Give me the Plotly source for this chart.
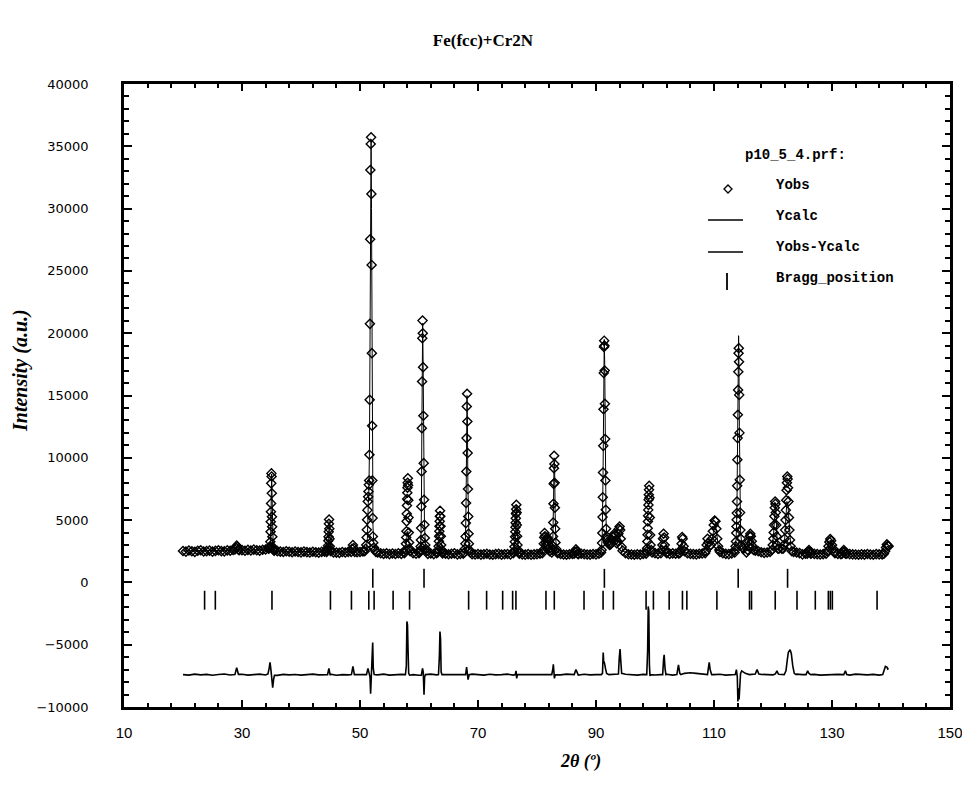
import plotly.graph_objects as go

# ---------------- data ----------------
# observed pattern: background read every 0.5 deg from 20.0 to 139.5
obs_base_y = [
    2520, 2470, 2560, 2500, 2450, 2540, 2580, 2480, 2510, 2550,
    2470, 2530, 2580, 2510, 2490, 2570, 2540, 2600, 2600, 2580,
    2590, 2540, 2610, 2560, 2630, 2580, 2550, 2620, 2640, 2660,
    2600, 2580, 2510, 2470, 2440, 2500, 2460, 2420, 2480, 2440,
    2410, 2470, 2430, 2400, 2460, 2420, 2390, 2450, 2470, 2480,
    2500, 2410, 2390, 2370, 2440, 2400, 2450, 2410, 2460, 2420,
    2440, 2480, 2500, 2520, 2560, 2600, 2400, 2340, 2290, 2330,
    2270, 2320, 2280, 2340, 2290, 2350, 2370, 2400, 2350, 2300,
    2350, 2400, 2340, 2290, 2320, 2270, 2350, 2290, 2330, 2300,
    2260, 2300, 2330, 2250, 2290, 2310, 2350, 2320, 2260, 2240,
    2280, 2230, 2260, 2300, 2240, 2220, 2270, 2290, 2230, 2260,
    2280, 2240, 2300, 2330, 2300, 2250, 2230, 2270, 2220, 2250,
    2270, 2300, 2320, 2350, 2400, 2380, 2400, 2350, 2280, 2240,
    2220, 2260, 2280, 2300, 2260, 2300, 2270, 2240, 2230, 2280,
    2250, 2300, 2340, 2400, 2450, 2500, 2600, 2700, 2700, 2500,
    2350, 2260, 2240, 2220, 2260, 2230, 2280, 2300, 2330, 2400,
    2350, 2290, 2320, 2380, 2340, 2290, 2330, 2300, 2320, 2350,
    2400, 2340, 2290, 2270, 2250, 2300, 2320, 2350, 2400, 2500,
    2600, 2600, 2450, 2350, 2290, 2270, 2330, 2400, 2450, 2500,
    2450, 2400, 2450, 2500, 2550, 2500, 2420, 2370, 2400, 2450,
    2500, 2550, 2600, 2700, 2750, 2700, 2450, 2450, 2400, 2350,
    2250, 2300, 2320, 2350, 2290, 2270, 2240, 2270, 2300, 2350,
    2400, 2340, 2290, 2270, 2250, 2300, 2270, 2250, 2240, 2220,
    2250, 2230, 2280, 2240, 2220, 2270, 2250, 2240, 2290, 2900,
]
obs_base_tt = [20.0 + 0.5 * i for i in range(len(obs_base_y))]

# observed points on the peaks
obs_peak_tt = [
    [28.8, 28.95, 29.1, 29.25, 29.4],
    [34.5, 34.6, 34.68, 34.75, 34.80, 34.84, 34.87, 34.90, 34.93, 34.96, 34.99,
     35.02, 35.05, 35.08, 35.11, 35.14, 35.18, 35.25, 35.35, 35.45],
    [44.35, 44.45, 44.52, 44.58, 44.63, 44.67, 44.70, 44.73, 44.76, 44.80, 44.84,
     44.88, 44.95, 45.05],
    [48.5, 48.65, 48.8, 48.95, 49.1],
    [50.8, 50.95, 51.05, 51.12, 51.16, 51.20, 51.26, 51.32, 51.38, 51.44, 51.50,
     51.55, 51.60, 51.64, 51.68, 51.72, 51.76, 51.82, 51.88, 51.93, 51.97, 52.01,
     52.05, 52.09, 52.13, 52.18, 52.25, 52.35, 52.5, 52.7],
    [57.6, 57.7, 57.78, 57.83, 57.87, 57.90, 57.93, 57.96, 57.99, 58.02, 58.05,
     58.08, 58.11, 58.15, 58.19, 58.23, 58.27, 58.32, 58.40, 58.5],
    [60.1, 60.2, 60.27, 60.32, 60.36, 60.40, 60.44, 60.48, 60.52, 60.56, 60.60,
     60.64, 60.69, 60.74, 60.80, 60.86, 60.92, 60.99, 61.07, 61.15, 61.3],
    [63.15, 63.25, 63.32, 63.37, 63.41, 63.45, 63.48, 63.51, 63.54, 63.57, 63.61,
     63.65, 63.70, 63.76, 63.85, 63.95],
    [67.7, 67.8, 67.86, 67.90, 67.94, 67.98, 68.02, 68.06, 68.10, 68.15, 68.20,
     68.25, 68.30, 68.35, 68.40, 68.46, 68.55, 68.7],
    [76.0, 76.1, 76.18, 76.24, 76.28, 76.32, 76.35, 76.38, 76.41, 76.44, 76.47,
     76.50, 76.54, 76.58, 76.63, 76.69, 76.78, 76.9],
    [80.9, 81.05, 81.15, 81.22, 81.28, 81.35, 81.45, 81.55, 81.65, 81.72, 81.80,
     81.9, 82.0, 82.15],
    [82.5, 82.6, 82.66, 82.71, 82.75, 82.79, 82.83, 82.87, 82.91, 82.95, 82.99,
     83.03, 83.08, 83.14, 83.22, 83.35],
    [86.3, 86.45, 86.6, 86.75, 86.9],
    [90.85, 90.95, 91.02, 91.07, 91.11, 91.15, 91.19, 91.23, 91.27, 91.31, 91.35,
     91.39, 91.43, 91.47, 91.51, 91.55, 91.60, 91.65, 91.71, 91.78],
    [91.87, 92.0, 92.15, 92.3, 92.45, 92.6, 92.75, 92.9, 93.05, 93.2, 93.35, 93.5,
     93.65, 93.8, 93.9, 94.0, 94.1, 94.2, 94.35, 94.5],
    [98.5, 98.6, 98.66, 98.70, 98.74, 98.77, 98.80, 98.83, 98.86, 98.89, 98.92,
     98.95, 98.98, 99.02, 99.07, 99.12, 99.18, 99.25, 99.35, 99.5],
    [101.0, 101.15, 101.25, 101.35, 101.45, 101.55, 101.65, 101.8, 101.95],
    [104.2, 104.35, 104.5, 104.6, 104.7, 104.85, 105.0],
    [108.6, 108.75, 108.9, 109.05, 109.25, 109.45, 109.65, 109.8, 109.95, 110.1,
     110.25, 110.4, 110.55, 110.7, 110.9],
    [113.55, 113.65, 113.72, 113.77, 113.81, 113.84, 113.87, 113.90, 113.93,
     113.96, 114.00, 114.04, 114.08, 114.12, 114.16, 114.20, 114.24, 114.28,
     114.32, 114.37, 114.42, 114.48, 114.55, 114.65, 114.8, 115.0],
    [115.7, 115.85, 115.95, 116.05, 116.15, 116.25, 116.4, 116.55, 116.7],
    [119.8, 119.95, 120.05, 120.12, 120.18, 120.24, 120.30, 120.36, 120.42,
     120.48, 120.55, 120.62, 120.72, 120.85, 121.0],
    [121.7, 121.85, 121.95, 122.05, 122.12, 122.18, 122.24, 122.30, 122.36,
     122.42, 122.48, 122.55, 122.62, 122.70, 122.78, 122.88, 123.0, 123.2],
    [125.8, 125.95, 126.1, 126.25, 126.4],
    [129.0, 129.2, 129.4, 129.55, 129.7, 129.85, 130.0, 130.2, 130.4],
    [131.7, 131.85, 132.0, 132.15, 132.3],
    [138.8, 139.0, 139.15, 139.3, 139.45, 139.6],
]
obs_peak_y = [
    [2650, 2800, 2950, 2850, 2650],
    [2700, 2750, 2800, 2900, 3260, 4060, 4870, 5670, 6340, 7950, 8750,
     8500, 7150, 5270, 4470, 3660, 2860, 2700, 2600, 2550],
    [2450, 2550, 2700, 2950, 3340, 3660, 4060, 4700, 5050, 4300, 3500,
     2900, 2600, 2500],
    [2450, 2700, 3000, 2750, 2450],
    [2500, 2700, 3000, 3600, 4220, 5030, 5800, 6500, 6870, 7300, 7830,
     8180, 10240, 14650, 20750, 27540, 33100, 35190, 35720, 31180, 25480, 18400,
     12570, 8180, 5160, 3690, 3180, 2800, 2600, 2450],
    [2400, 2600, 3100, 3600, 4100, 4900, 5500, 6170, 6700, 7200, 7600,
     8000, 8350, 7800, 6600, 5200, 4000, 3200, 2700, 2500],
    [2450, 2600, 2880, 3400, 4360, 6090, 8900, 12380, 16120, 19600, 21010,
     20000, 17275, 13370, 9570, 6630, 4620, 3560, 3000, 2700, 2500],
    [2400, 2600, 2900, 3300, 3700, 4100, 4500, 4900, 5300, 5750, 5300,
     4500, 3700, 3000, 2600, 2400],
    [2400, 2700, 3100, 3690, 4760, 6370, 8900, 11580, 14120, 15140, 12910,
     10380, 7490, 5290, 3900, 3100, 2600, 2400],
    [2350, 2500, 2860, 3260, 3660, 4060, 4420, 4790, 5140, 5500, 5870,
     6230, 5600, 4600, 3700, 3000, 2600, 2400],
    [2350, 2600, 3100, 3600, 3960, 3700, 3200, 3000, 3300, 3600, 3500,
     3000, 2700, 2500],
    [2400, 2600, 2940, 3690, 4810, 6310, 7910, 9170, 10160, 9500, 8000,
     6000, 4300, 3200, 2700, 2450],
    [2300, 2450, 2650, 2500, 2300],
    [2400, 2600, 3160, 3960, 5240, 6830, 8820, 10960, 13900, 16800, 18900,
     19400, 19000, 17000, 14330, 11500, 8180, 5830, 4300, 3700],
    [3450, 3250, 3100, 3000, 3050, 3150, 3400, 3700, 3880, 3750, 3400, 3150,
     3300, 3900, 4300, 4490, 4200, 3500, 2850, 2550],
    [2300, 2500, 2740, 3280, 3820, 4350, 4890, 5340, 5820, 6220, 6630,
     7030, 7430, 7750, 6800, 5200, 3800, 3000, 2600, 2400],
    [2350, 2600, 3000, 3500, 3900, 3600, 3000, 2600, 2400],
    [2350, 2600, 3100, 3650, 3500, 2900, 2500],
    [2500, 3000, 3500, 3200, 2900, 3000, 3500, 4100, 4600, 4970,
     4900, 4300, 3500, 2900, 2600],
    [2600, 2900, 3280, 3960, 4490, 5020, 5560, 6490, 7750,
     9840, 11580, 13450, 15450, 16900, 18400, 18800, 17700, 15050,
     12000, 8230, 5600, 4200, 3500, 3000, 2800, 2700],
    [2600, 2900, 3300, 3700, 3900, 3700, 3300, 2900, 2600],
    [2600, 3000, 3500, 4000, 4600, 5300, 6000, 6490, 6300,
     5600, 4600, 3700, 3000, 2700, 2700],
    [2700, 3000, 3500, 4200, 5000, 5800, 6600, 7400, 8000,
     8500, 8300, 7600, 6500, 5200, 4200, 3400, 2900, 2500],
    [2300, 2450, 2600, 2450, 2300],
    [2300, 2500, 2900, 3250, 3480, 3350, 3000, 2700, 2450],
    [2300, 2450, 2600, 2450, 2300],
    [2300, 2500, 2800, 3050, 2950, 2900],
]

# calculated pattern: background every 2 deg from 20 to 138, plus peaks
calc_base_y = [
    2520, 2530, 2540, 2540, 2560, 2580, 2590, 2620, 2500, 2470,
    2450, 2440, 2440, 2420, 2420, 2450, 2450, 2380, 2320, 2330,
    2350, 2350, 2320, 2300, 2290, 2270, 2260, 2270, 2280, 2270,
    2290, 2350, 2320, 2270, 2270, 2280, 2600, 2500, 2260, 2260,
    2300, 2320, 2330, 2330, 2300, 2500, 2400, 2600, 2450, 2480,
    2600, 2800, 2400, 2330, 2320, 2350, 2280, 2270, 2260, 2260,
]
calc_base_tt = [20.0 + 2.0 * i for i in range(len(calc_base_y))]
calc_peak_tt = [
    [34.5, 34.7, 34.85, 34.95, 35.03, 35.10, 35.18, 35.3, 35.5],
    [44.4, 44.6, 44.68, 44.76, 44.84, 44.95, 45.1],
    [48.5, 48.8, 49.1],
    [50.9, 51.1, 51.25, 51.4, 51.5, 51.6, 51.7, 51.8, 51.88, 51.95, 52.02, 52.1,
     52.2, 52.35, 52.6],
    [57.6, 57.9, 58.1, 58.3, 58.6],
    [60.1, 60.3, 60.4, 60.48, 60.56, 60.62, 60.7, 60.8, 60.92, 61.05, 61.3],
    [67.7, 67.88, 67.98, 68.06, 68.14, 68.2, 68.28, 68.38, 68.5, 68.8],
    [76.0, 76.25, 76.38, 76.47, 76.55, 76.65, 76.8, 77.0],
    [80.9, 81.15, 81.3, 81.5, 81.72, 81.95, 82.2],
    [82.5, 82.68, 82.8, 82.9, 82.98, 83.08, 83.2, 83.4],
    [90.85, 91.05, 91.2, 91.3, 91.4, 91.48, 91.58, 91.7, 91.85, 92.2, 92.6,
     93.0, 93.25, 93.6, 93.95, 94.2, 94.6],
    [98.6, 98.9, 99.2],
    [101.1, 101.45, 101.8],
    [104.2, 104.6, 105.0],
    [108.6, 108.9, 109.2, 109.6, 109.9, 110.15, 110.4, 110.7, 110.95],
    [113.55, 113.75, 113.88, 113.98, 114.06, 114.12, 114.17, 114.22, 114.3,
     114.4, 114.5, 114.7, 115.0],
    [115.7, 116.15, 116.7],
    [119.8, 120.1, 120.25, 120.38, 120.5, 120.7, 121.0],
    [121.7, 121.95, 122.15, 122.35, 122.5, 122.7, 123.0, 123.3],
    [125.8, 126.1, 126.4],
    [129.1, 129.4, 129.7, 130.0, 130.4],
    [138.8, 139.1, 139.3, 139.6],
]
calc_peak_y = [
    [2650, 2750, 3500, 6500, 8700, 6800, 4000, 2800, 2550],
    [2450, 2700, 3300, 4900, 4100, 2800, 2450],
    [2430, 2800, 2430],
    [2550, 2750, 3500, 6300, 7300, 10500, 24000, 33000, 35500, 30000, 20000, 9500,
     4500, 3000, 2550],
    [2350, 3200, 4100, 3200, 2400],
    [2400, 2900, 5500, 12000, 19000, 20800, 17500, 10000, 5000, 3200, 2450],
    [2380, 3500, 6500, 11500, 15000, 13500, 8000, 4200, 2900, 2350],
    [2330, 3200, 4800, 6200, 5500, 3800, 2700, 2320],
    [2330, 3100, 3800, 3200, 3500, 2800, 2450],
    [2420, 3300, 6500, 10000, 9300, 5500, 3300, 2450],
    [2400, 3500, 9000, 16500, 19500, 17500, 10000, 5000, 3600, 3050, 3100,
     3650, 3400, 3200, 3900, 3100, 2500],
    [2280, 2400, 2300],
    [2320, 2600, 2350],
    [2330, 3200, 2400],
    [2450, 3100, 2900, 3200, 4000, 4700, 4200, 2900, 2500],
    [2600, 3500, 5500, 9500, 14500, 18500, 19800, 18000, 12500,
     6500, 4200, 3000, 2650],
    [2550, 3700, 2600],
    [2600, 3800, 5200, 6400, 5600, 3300, 2750],
    [2750, 3300, 4700, 6500, 6400, 4800, 3000, 2550],
    [2300, 2450, 2300],
    [2350, 2850, 3400, 3000, 2450],
    [2280, 2600, 2900, 2850],
]

# difference curve (Yobs - Ycalc, drawn shifted): background every 1 deg, plus features
diff_base_y = [
    -7400, -7440, -7360, -7420, -7380, -7450, -7390, -7350, -7430, -7400,
    -7370, -7440, -7400, -7360, -7430, -7400, -7460, -7380, -7420, -7390,
    -7440, -7400, -7360, -7420, -7400, -7370, -7450, -7400, -7420, -7360,
    -7400, -7440, -7390, -7420, -7360, -7440, -7400, -7380, -7430, -7400,
    -7450, -7400, -7360, -7420, -7400, -7440, -7380, -7400, -7420, -7360,
    -7400, -7440, -7370, -7420, -7400, -7360, -7440, -7400, -7420, -7380,
    -7400, -7380, -7440, -7400, -7420, -7360, -7400, -7440, -7370, -7420,
    -7400, -7360, -7430, -7400, -7420, -7370, -7400, -7440, -7380, -7400,
    -7430, -7400, -7370, -7440, -7400, -7300, -7250, -7300, -7350, -7380,
    -7400, -7370, -7440, -7400, -7420, -7360, -7400, -7440, -7380, -7400,
    -7420, -7370, -7400, -7440, -7360, -7400, -7420, -7380, -7440, -7400,
    -7420, -7380, -7400, -7440, -7360, -7400, -7420, -7380, -7440, -7400,
]
diff_base_tt = [20.0 + 1.0 * i for i in range(len(diff_base_y))]
diff_peak_tt = [
    [28.8, 29.1, 29.4],
    [34.4, 34.6, 34.75, 34.9, 35.05, 35.2, 35.35, 35.5],
    [44.5, 44.73, 44.95],
    [48.55, 48.8, 49.05],
    [51.1, 51.35, 51.55, 51.7, 51.8, 51.9, 52.05, 52.15, 52.25, 52.4],
    [57.7, 57.85, 57.95, 58.05, 58.15, 58.25, 58.4],
    [60.4, 60.6, 60.72, 60.85, 60.95, 61.1],
    [63.3, 63.45, 63.55, 63.65, 63.75, 63.9],
    [67.9, 68.07, 68.2, 68.32, 68.5],
    [76.3, 76.45, 76.55, 76.7],
    [82.5, 82.7, 82.77, 82.87, 82.95, 83.1],
    [86.3, 86.6, 86.9],
    [90.9, 91.1, 91.22, 91.3, 91.45, 91.6, 91.8, 92.2],
    [93.8, 93.95, 94.08, 94.2, 94.35],
    [98.6, 98.75, 98.85, 98.95, 99.05, 99.15, 99.3],
    [101.3, 101.45, 101.55, 101.7, 101.85],
    [103.7, 103.98, 104.2, 104.4],
    [108.9, 109.1, 109.19, 109.35, 109.6],
    [113.6, 113.8, 113.95, 114.05, 114.15, 114.25, 114.35, 114.5, 114.7, 115.0, 115.3],
    [117.0, 117.3, 117.6],
    [120.4, 120.67, 120.9],
    [121.9, 122.2, 122.4, 122.6, 122.9, 123.1, 123.35, 123.6, 123.9],
    [125.6, 125.87, 126.1, 126.4],
    [132.0, 132.27, 132.5],
    [138.6, 138.85, 139.05, 139.3, 139.45, 139.6],
]
diff_peak_y = [
    [-7400, -6850, -7380],
    [-7350, -6900, -6420, -7000, -7600, -8450, -7800, -7450],
    [-7400, -6900, -7450],
    [-7400, -6750, -7400],
    [-7400, -6900, -7300, -7600, -8930, -7500, -6500, -4820, -6900, -7400],
    [-7400, -6700, -3130, -3400, -5500, -7300, -7450],
    [-7450, -6900, -7200, -9010, -7600, -7400],
    [-7400, -6000, -3940, -4500, -7200, -7400],
    [-7400, -6800, -7300, -7800, -7400],
    [-7400, -7100, -7700, -7400],
    [-7400, -6900, -6580, -7200, -7700, -7400],
    [-7400, -7000, -7400],
    [-7400, -7300, -5620, -6300, -6500, -6900, -7300, -7400],
    [-7350, -6000, -5350, -6300, -7300],
    [-7400, -5500, -1930, -2300, -6600, -7500, -7400],
    [-7400, -6200, -5810, -6900, -7400],
    [-7400, -6610, -7300, -7400],
    [-7400, -6700, -6420, -7000, -7400],
    [-7400, -7000, -7600, -9550, -8500, -9400, -7700, -7300, -7100, -7200, -7300],
    [-7350, -7000, -7350],
    [-7350, -7100, -7350],
    [-7400, -7100, -6300, -5600, -5400, -5700, -6700, -7300, -7400],
    [-7400, -7100, -7300, -7400],
    [-7400, -7100, -7400],
    [-7400, -7100, -6740, -6800, -6950, -6900],
]

# Bragg reflections (2theta) of the two phases
bragg_phase1 = [52.17, 60.85, 91.42, 114.10, 122.47]
bragg_phase2 = [23.66, 25.48, 35.08, 44.99, 48.55, 51.49, 52.39, 55.61, 58.40,
                68.41, 71.46, 74.18, 75.87, 76.43, 81.52, 82.93, 87.97, 91.20,
                92.95, 98.49, 99.73, 102.40, 104.65, 105.40, 110.49, 116.02,
                116.36, 120.38, 124.07, 127.17, 129.38, 129.72, 130.06, 137.64]
bragg_row_level = [330, -1430]   # vertical level of each tick row

title_text = "Fe(fcc)+Cr2N"
x_title = "2θ (º)"
y_title = "Intensity (a.u.)"
legend_title = "p10_5_4.prf:"
legend_items = ["Yobs", "Ycalc", "Yobs-Ycalc", "Bragg_position"]


def merge(base_tt, base_y, seg_tt, seg_y):
    windows = [(min(t), max(t)) for t in seg_tt]
    pts = [(t, y) for t, y in zip(base_tt, base_y)
           if not any(lo - 1e-9 <= t <= hi + 1e-9 for lo, hi in windows)]
    for tl, yl in zip(seg_tt, seg_y):
        assert len(tl) == len(yl)
        pts.extend(zip(tl, yl))
    pts.sort()
    return [p[0] for p in pts], [p[1] for p in pts]


obs_tt, obs_y = merge(obs_base_tt, obs_base_y, obs_peak_tt, obs_peak_y)
calc_tt, calc_y = merge(calc_base_tt, calc_base_y, calc_peak_tt, calc_peak_y)
diff_tt, diff_y = merge(diff_base_tt, diff_base_y, diff_peak_tt, diff_peak_y)

# ---------------- figure ----------------
fig = go.Figure()
fig.add_trace(go.Scatter(x=obs_tt, y=obs_y, mode="markers",
                         marker=dict(symbol="diamond-open", size=7, color="black",
                                     line=dict(width=1.4, color="black")),
                         hoverinfo="skip"))
fig.add_trace(go.Scatter(x=calc_tt, y=calc_y, mode="lines",
                         line=dict(color="black", width=1), hoverinfo="skip"))
fig.add_trace(go.Scatter(x=diff_tt, y=diff_y, mode="lines",
                         line=dict(color="black", width=1.6), hoverinfo="skip"))
for positions, level in zip([bragg_phase1, bragg_phase2], bragg_row_level):
    fig.add_trace(go.Scatter(x=positions, y=[level] * len(positions), mode="markers",
                             marker=dict(symbol="line-ns-open", size=13.5, color="black",
                                         line=dict(width=1.6, color="black")),
                             hoverinfo="skip"))

W, H = 962, 797
ML, MR, MT, MB = 124, 12, 84, 90
PW, PH = W - ML - MR, H - MT - MB


def px(x):
    return (x - ML) / PW


def py(y):
    return (H - MB - y) / PH


mono = dict(family="Liberation Mono, Courier New, monospace", size=14, color="black")
annotations = [
    dict(text="<b>%s</b>" % legend_title, x=px(743), y=py(155), xref="paper", yref="paper",
         xanchor="left", yanchor="middle", showarrow=False, font=mono),
]
for label, yp in zip(legend_items, [185, 216, 247, 278]):
    annotations.append(dict(text="<b>%s</b>" % label, x=px(774), y=py(yp), xref="paper",
                            yref="paper", xanchor="left", yanchor="middle",
                            showarrow=False, font=mono))
annotations.append(dict(text="<b><i>%s</i></b>" % x_title, x=px(580), y=py(762),
                        xref="paper", yref="paper", xanchor="center", yanchor="middle",
                        showarrow=False,
                        font=dict(family="Liberation Serif, serif", size=18, color="black")))
annotations.append(dict(text="<b><i>%s</i></b>" % y_title, x=px(20), y=py(370),
                        xref="paper", yref="paper", xanchor="center", yanchor="middle",
                        textangle=-90, showarrow=False,
                        font=dict(family="Liberation Serif, serif", size=20, color="black")))

dx, dy = 4 / PW, 4 / PH
cx, cy = px(728), py(189)
shapes = [
    dict(type="path", xref="paper", yref="paper",
         path="M %f,%f L %f,%f L %f,%f L %f,%f Z" % (cx - dx, cy, cx, cy + dy, cx + dx, cy, cx, cy - dy),
         line=dict(color="black", width=1.3)),
    dict(type="line", xref="paper", yref="paper", x0=px(708), x1=px(743), y0=py(220), y1=py(220),
         line=dict(color="black", width=1.5)),
    dict(type="line", xref="paper", yref="paper", x0=px(708), x1=px(743), y0=py(252), y1=py(252),
         line=dict(color="black", width=1.5)),
    dict(type="line", xref="paper", yref="paper", x0=px(727), x1=px(727), y0=py(273), y1=py(290),
         line=dict(color="black", width=1.8)),
]

axis_common = dict(showline=True, linewidth=2.5, linecolor="black", mirror="ticks",
                   ticks="inside", tickcolor="black", showgrid=False, zeroline=False,
                   automargin=False, ticklabeloverflow="allow")
fig.update_layout(
    width=W, height=H, margin=dict(l=ML, r=MR, t=MT, b=MB, autoexpand=False),
    paper_bgcolor="white", plot_bgcolor="white", showlegend=False,
    title=dict(text="<b>%s</b>" % title_text, x=483 / W, xanchor="center",
               y=1 - 40 / H, yanchor="middle",
               font=dict(family="Liberation Serif, serif", size=17, color="black")),
    xaxis=dict(range=[10, 150], tickmode="linear", tick0=10, dtick=20, ticklen=7, tickwidth=2,
               minor=dict(tick0=10, dtick=4, ticks="inside", ticklen=4, tickwidth=1.5,
                          tickcolor="black", showgrid=False),
               tickfont=dict(family="Liberation Sans, Arial, sans-serif",
                             size=15, color="black"),
               ticklabelstandoff=10, **axis_common),
    yaxis=dict(range=[-10000, 40000], tickmode="linear", tick0=0, dtick=5000, ticklen=8,
               tickwidth=2, tickformat="d",
               minor=dict(tick0=0, dtick=1000, ticks="inside", ticklen=5, tickwidth=1.5,
                          tickcolor="black", showgrid=False),
               tickfont=dict(family="DejaVu Sans, sans-serif", size=13, color="black"),
               ticklabelstandoff=30, **axis_common),
    annotations=annotations, shapes=shapes,
)

fig.write_html("out.html", config={"displayModeBar": False},
               post_script="document.body.style.margin='0';document.body.style.overflow='hidden';")
